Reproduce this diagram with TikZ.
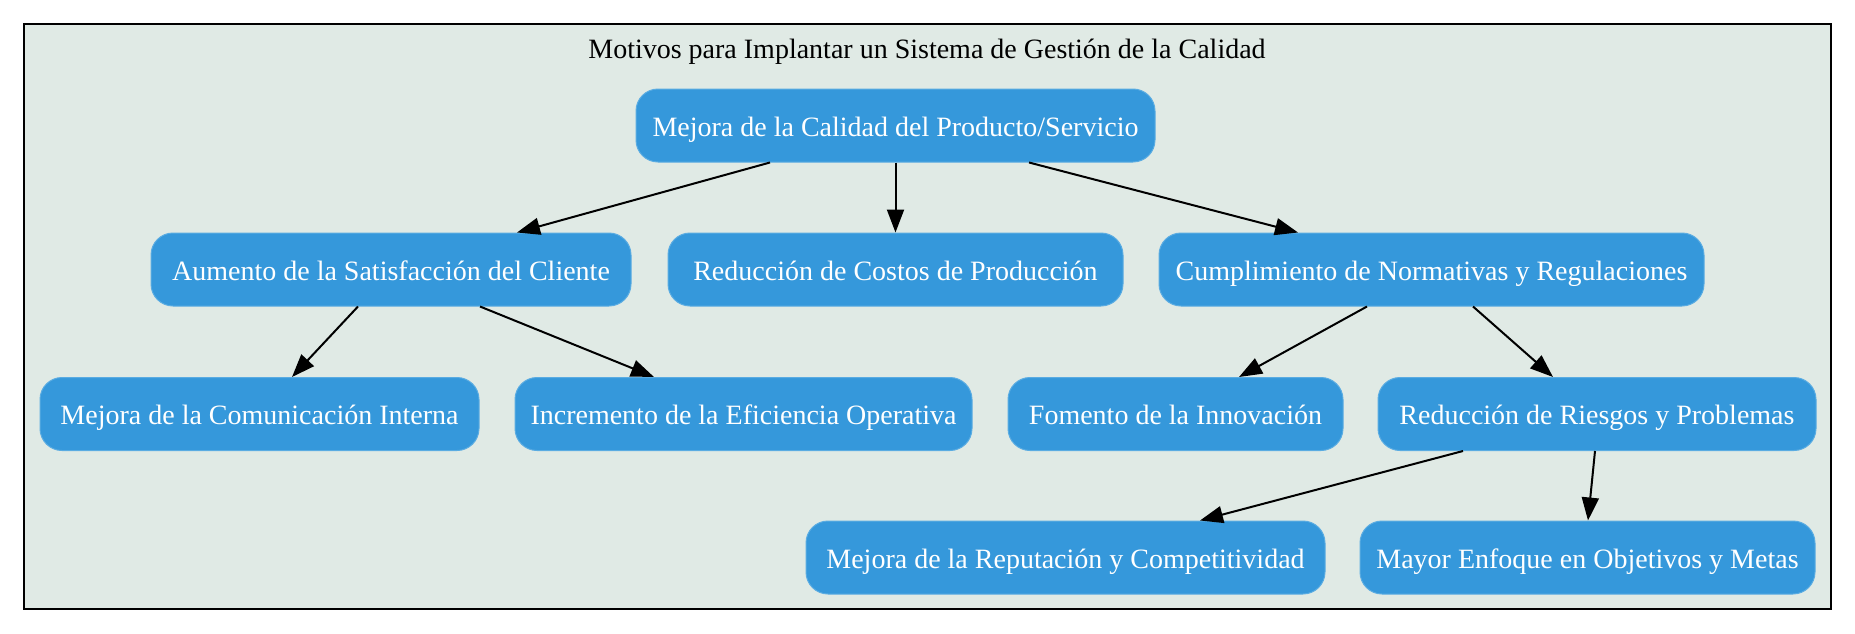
\documentclass[tikz,border=0pt]{standalone}
\usepackage{fontspec}
\setmainfont{Liberation Serif}
\usetikzlibrary{arrows.meta}
\definecolor{nodefill}{HTML}{3598DB}
\definecolor{nodeline}{HTML}{5AACE2}
\definecolor{clusterbg}{HTML}{E0EAE5}
\tikzset{
  box/.style={draw=nodeline, line width=1pt, fill=nodefill, rounded corners=22pt,
    minimum height=73pt, inner sep=0pt, text height=25pt, text depth=4pt, text=white,
    font=\fontsize{28}{32}\selectfont},
  conn/.style={draw=black, line width=2pt,
    -{Triangle[length=23pt,width=17pt]}},
  titlefont/.style={font=\fontsize{28}{32}\selectfont, inner sep=0pt, text height=19pt, text depth=6pt}
}
\begin{document}
\begin{tikzpicture}[x=1pt,y=-1pt]
\useasboundingbox (0,0) rectangle (1855,634);
\draw[fill=clusterbg, line width=2pt] (24,24) rectangle (1831,609);
\node[titlefont] (title) at (927,52.5) {Motivos para Implantar un Sistema de Gestión de la Calidad};

\node[box, minimum width=519pt] (top) at (895.5,125.5) {Mejora de la Calidad del Producto/Servicio};

\node[box, minimum width=480pt] (aum) at (391,269.5) {Aumento de la Satisfacción del Cliente};
\node[box, minimum width=455pt] (cos) at (895.5,269.5) {Reducción de Costos de Producción};
\node[box, minimum width=545pt] (cum) at (1431.5,269.5) {Cumplimiento de Normativas y Regulaciones};

\node[box, minimum width=439pt] (com) at (259.5,414) {Mejora de la Comunicación Interna};
\node[box, minimum width=457pt] (inc) at (743.5,414) {Incremento de la Eficiencia Operativa};
\node[box, minimum width=335pt] (fom) at (1175.5,414) {Fomento de la Innovación};
\node[box, minimum width=438pt] (rie) at (1597,414) {Reducción de Riesgos y Problemas};

\node[box, minimum width=519pt] (rep) at (1065.5,557.5) {Mejora de la Reputación y Competitividad};
\node[box, minimum width=455pt] (may) at (1587.5,557.5) {Mayor Enfoque en Objetivos y Metas};

\draw[conn] ([xshift=-125.5pt]top.south) -- ([xshift=126pt]aum.north);
\draw[conn] (top.south) -- (cos.north);
\draw[conn] ([xshift=133.5pt]top.south) -- ([xshift=-133.5pt]cum.north);
\draw[conn] ([xshift=-33pt]aum.south) -- ([xshift=32.5pt]com.north);
\draw[conn] ([xshift=89pt]aum.south) -- ([xshift=-89.5pt]inc.north);
\draw[conn] ([xshift=-64.5pt]cum.south) -- ([xshift=63.5pt]fom.north);
\draw[conn] ([xshift=41.5pt]cum.south) -- ([xshift=-44pt]rie.north);
\draw[conn] ([xshift=-134pt]rie.south) -- ([xshift=134.5pt]rep.north);
\draw[conn] ([xshift=-2pt]rie.south) -- ([xshift=0.5pt]may.north);
\end{tikzpicture}
\end{document}
